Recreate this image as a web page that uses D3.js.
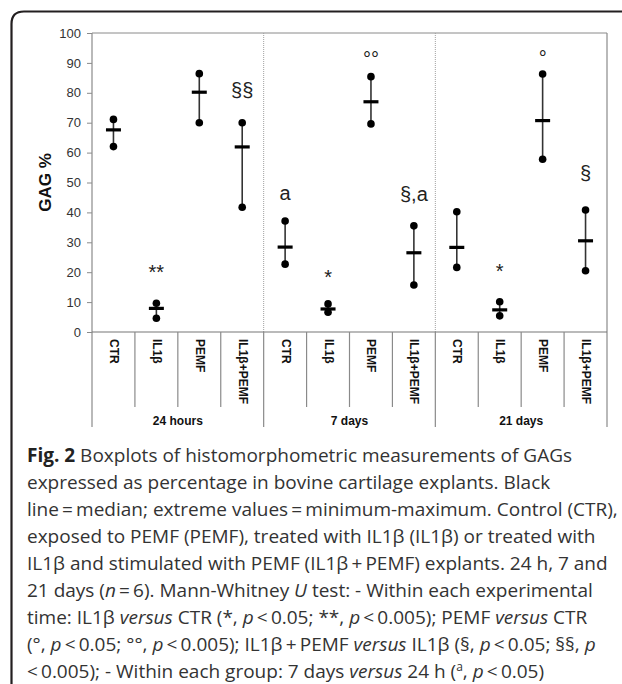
<!DOCTYPE html>
<html>
<head>
<meta charset="utf-8">
<script src="https://cdn.jsdelivr.net/npm/d3@7"></script>
<style>
  html, body { margin: 0; padding: 0; background: #fff; }
  svg { display: block; }
</style>
</head>
<body>
<svg id="chart" width="622" height="684"></svg>
<script>
// ---- data ----
const groups = ["24 hours", "7 days", "21 days"];
const treatments = ["CTR", "IL1β", "PEMF", "IL1β+PEMF"];
const maxVals = [71.1, 9.6, 86.4, 70.0, 37.1, 9.4, 85.4, 35.5, 40.2, 10.1, 86.3, 40.8];
const medVals = [67.6, 7.9, 80.2, 61.9, 28.4, 7.7, 77.0, 26.5, 28.3, 7.4, 70.7, 30.5];
const minVals = [62.0, 4.6, 70.0, 41.7, 22.7, 6.6, 69.6, 15.7, 21.6, 5.4, 57.8, 20.5];
const annoText = ["", "**", "", "§§", "a", "*", "°°", "§,a", "", "*", "°", "§"];
const annoPos  = [0, 17.7, 0, 78.6, 44.1, 16.0, 88.8, 43.8, 0, 18.0, 89.2, 50.8];
const yTicks = [0, 10, 20, 30, 40, 50, 60, 70, 80, 90, 100];

// caption lines: arrays of [text, style]
const caption = [
  [["Fig. 2", "b"], [" Boxplots of histomorphometric measurements of GAGs", ""]],
  [["expressed as percentage in bovine cartilage explants. Black", ""]],
  [["line\u2009=\u2009median; extreme values\u2009=\u2009minimum-maximum. Control (CTR),", ""]],
  [["exposed to PEMF (PEMF), treated with IL1β (IL1β) or treated with", ""]],
  [["IL1β and stimulated with PEMF (IL1β\u2009+\u2009PEMF) explants. 24 h, 7 and", ""]],
  [["21 days (", ""], ["n", "i"], ["\u2009=\u20096). Mann-Whitney ", ""], ["U", "i"], [" test: - Within each experimental", ""]],
  [["time: IL1β ", ""], ["versus", "i"], [" CTR (*, ", ""], ["p", "i"], ["\u2009<\u20090.05; **, ", ""], ["p", "i"], ["\u2009<\u20090.005); PEMF ", ""], ["versus", "i"], [" CTR", ""]],
  [["(°, ", ""], ["p", "i"], ["\u2009<\u20090.05; °°, ", ""], ["p", "i"], ["\u2009<\u20090.005); IL1β\u2009+\u2009PEMF ", ""], ["versus", "i"], [" IL1β (§, ", ""], ["p", "i"], ["\u2009<\u20090.05; §§, ", ""], ["p", "i"]],
  [["<\u20090.005); - Within each group: 7 days ", ""], ["versus", "i"], [" 24 h (", ""], ["a", "sup"], [", ", ""], ["p", "i"], ["\u2009<\u20090.05)", ""]]
];

// ---- layout ----
const svg = d3.select("#chart");
const pL = 92, pR = 607, pT = 33, pB = 332;
const cats = d3.range(groups.length * treatments.length);
const x = d3.scaleBand().domain(cats).range([pL, pR]).padding(0);
const y = d3.scaleLinear().domain([0, 100]).range([pB, pT]);
const gx = d3.scaleBand().domain(groups).range([pL, pR]).padding(0);

// frame (top + left, rounded corner)
svg.append("path")
  .attr("d", `M11.5,700 L11.5,24 Q11.5,11.5 24,11.5 L640,11.5`)
  .attr("fill", "none").attr("stroke", "#231f20").attr("stroke-width", 2.2);

const axisColor = "#8a8a8a";
const font = "Liberation Sans, Arial, sans-serif";

// plot border top & right
svg.append("line").attr("x1", pL).attr("x2", pR).attr("y1", pT).attr("y2", pT)
  .attr("stroke", axisColor).attr("stroke-width", 1);
svg.append("line").attr("x1", pR).attr("x2", pR).attr("y1", pT).attr("y2", 427)
  .attr("stroke", axisColor).attr("stroke-width", 1.2);

// dotted group dividers
groups.slice(1).forEach(g => {
  const gxp = gx(g);
  svg.append("line").attr("x1", gxp).attr("x2", gxp).attr("y1", pT).attr("y2", pB)
    .attr("stroke", "#a0a0a0").attr("stroke-width", 1).attr("stroke-dasharray", "1,1");
});

// y axis
const yAxis = d3.axisLeft(y).tickValues(yTicks).tickSize(5).tickPadding(6);
const ya = svg.append("g").attr("transform", `translate(${pL},0)`).call(yAxis);
ya.select(".domain").remove();
ya.selectAll(".tick line").attr("stroke", axisColor);
ya.selectAll(".tick text").attr("font-family", font).attr("font-size", 13).attr("fill", "#333");
svg.append("line").attr("x1", pL).attr("x2", pL).attr("y1", pT).attr("y2", 427)
  .attr("stroke", axisColor).attr("stroke-width", 1.2);

// y title
svg.append("text")
  .attr("transform", `translate(51,${(pT + pB) / 2}) rotate(-90)`)
  .attr("text-anchor", "middle").attr("font-family", font).attr("font-weight", "bold")
  .attr("font-size", 17).attr("fill", "#111").text("GAG %");

// x baseline
svg.append("line").attr("x1", pL).attr("x2", pR).attr("y1", pB).attr("y2", pB)
  .attr("stroke", "#777").attr("stroke-width", 1.2);

// category separators
cats.slice(1).forEach(c => {
  const xp = x(c);
  const isGroup = c % treatments.length === 0;
  svg.append("line").attr("x1", xp).attr("x2", xp).attr("y1", pB)
    .attr("y2", isGroup ? 427 : 407)
    .attr("stroke", axisColor).attr("stroke-width", 1.2);
});

// category labels
svg.append("g").selectAll("text").data(cats).join("text")
  .attr("transform", c => `translate(${x(c) + x.bandwidth() / 2 + 0.5},339) rotate(90)`)
  .attr("text-anchor", "start").attr("dominant-baseline", "central")
  .attr("font-family", font).attr("font-weight", "bold").attr("font-size", 12)
  .attr("fill", "#111")
  .text(c => treatments[c % treatments.length]);

// group labels
svg.append("g").selectAll("text").data(groups).join("text")
  .attr("x", g => gx(g) + gx.bandwidth() / 2).attr("y", 425)
  .attr("text-anchor", "middle").attr("font-family", font).attr("font-weight", "bold")
  .attr("font-size", 12).attr("fill", "#111").text(g => g);

// marks
const marks = svg.append("g");
cats.forEach(c => {
  const cx = x(c) + x.bandwidth() / 2;
  marks.append("line").attr("x1", cx).attr("x2", cx)
    .attr("y1", y(maxVals[c])).attr("y2", y(minVals[c]))
    .attr("stroke", "#333").attr("stroke-width", 1.6);
  marks.append("circle").attr("cx", cx).attr("cy", y(maxVals[c])).attr("r", 3.8).attr("fill", "#000");
  marks.append("circle").attr("cx", cx).attr("cy", y(minVals[c])).attr("r", 3.8).attr("fill", "#000");
  marks.append("line").attr("x1", cx - 7.5).attr("x2", cx + 7.5)
    .attr("y1", y(medVals[c])).attr("y2", y(medVals[c]))
    .attr("stroke", "#000").attr("stroke-width", 3.2);
  if (annoText[c]) {
    marks.append("text").attr("x", cx).attr("y", y(annoPos[c]))
      .attr("text-anchor", "middle").attr("font-family", font).attr("font-size", 20)
      .attr("fill", "#222").text(annoText[c]);
  }
});

// caption
const cap = svg.append("text").attr("font-family", "Open Sans, sans-serif")
  .attr("font-size", 19).attr("fill", "#333");
caption.forEach((line, i) => {
  const base = 461.5 + i * 27;
  line.forEach(([t, s], j) => {
    const ts = cap.append("tspan").text(t);
    if (j === 0) ts.attr("x", 27).attr("y", base);
    if (s === "b") ts.attr("font-weight", "bold").attr("fill", "#222");
    if (s === "i") ts.attr("font-style", "italic");
    if (s === "sup") ts.attr("font-size", 12).attr("dy", -7);
    if (j > 0 && line[j - 1][1] === "sup") ts.attr("dy", 7);
  });
});
</script>
</body>
</html>
